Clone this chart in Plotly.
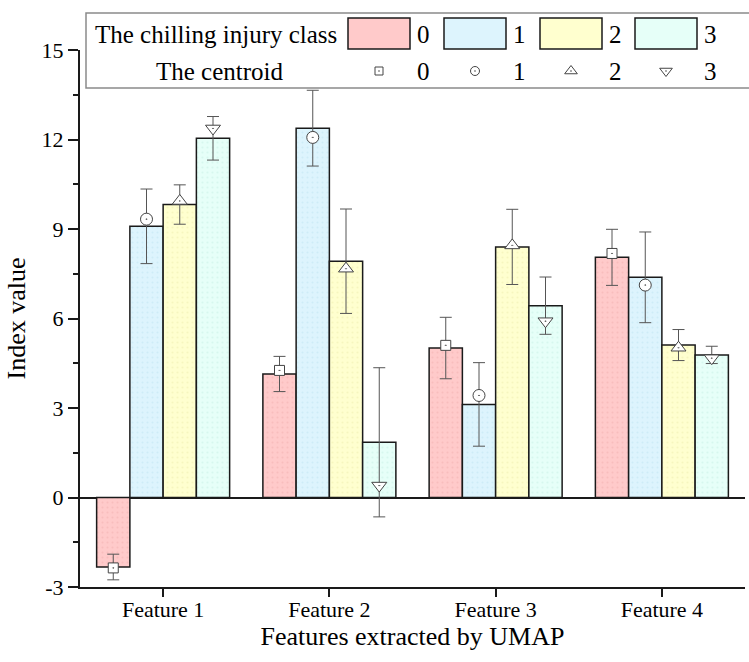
import numpy as np
import plotly.graph_objects as go

features = ["Feature 1", "Feature 2", "Feature 3", "Feature 4"]
classes = ["0", "1", "2", "3"]

# bar means (per class), symmetric error, and centroid marker values
class0 = [-2.33, 4.14, 5.01, 8.05]
err0 = [0.43, 0.59, 1.03, 0.94]
cent0 = [-2.36, 4.26, 5.10, 8.18]

class1 = [9.09, 12.38, 3.12, 7.38]
err1 = [1.25, 1.27, 1.40, 1.52]
cent1 = [9.33, 12.07, 3.42, 7.12]

class2 = [9.82, 7.92, 8.40, 5.11]
err2 = [0.66, 1.75, 1.26, 0.52]
cent2 = [9.94, 7.67, 8.45, 5.02]

class3 = [12.04, 1.85, 6.43, 4.78]
err3 = [0.73, 2.50, 0.96, 0.29]
cent3 = [12.37, 0.40, 5.91, 4.67]

y_ticks = [-3, 0, 3, 6, 9, 12, 15]
y_ticktext = ["-3", "0", "3", "6", "9", "12", "15"]

means = [class0, class1, class2, class3]
errs = [err0, err1, err2, err3]
cents = [cent0, cent1, cent2, cent3]

fills = ["#FFCACA", "#DDF4FD", "#FFFFCF", "#E6FFF8"]
dots = ["#F2AFAF", "#BFE3F2", "#EDEDB0", "#C8F0E4"]
symbols = ["square-dot", "circle-dot", "triangle-up-dot", "triangle-down-dot"]
msizes = [10, 12, 13, 13]

FONT = "Liberation Serif"
W, H = 749, 662
ML, MR, MT, MB = 80, 4, 50, 75
pw, ph = W - ML - MR, H - MT - MB

fig = go.Figure()
xs = np.arange(len(features))
nb = len(classes)
bw = 0.8 / nb
for k in range(nb):
    fig.add_trace(go.Bar(
        x=xs, y=means[k], name=classes[k],
        marker=dict(color=fills[k], line=dict(color="#1a1a1a", width=1.5),
                    pattern=dict(shape=".", size=5, solidity=0.15,
                                 fgcolor=dots[k], bgcolor=fills[k])),
        error_y=dict(type="data", array=errs[k], visible=True,
                     color="#555555", thickness=1, width=6),
        showlegend=False,
    ))
for k in range(nb):
    off = (k - (nb - 1) / 2) * bw
    fig.add_trace(go.Scatter(
        x=xs + off, y=cents[k], mode="markers",
        marker=dict(symbol=symbols[k], size=msizes[k], color="white",
                    line=dict(color="#444444", width=1)),
        showlegend=False, cliponaxis=False,
    ))

# ---- custom two-row legend (paper coordinates from pixel positions) ----
def px(x):
    return (x - ML) / pw

def py(y):
    return (H - MB - y) / ph

LFONT = dict(family=FONT, size=25, color="black")
shapes = [dict(type="rect", xref="paper", yref="paper",
               x0=px(86), x1=px(752), y0=py(88), y1=py(13),
               line=dict(color="#8a8a8a", width=1.5), fillcolor="white", layer="below")]
annotations = []
box_x0 = [348, 444, 540, 635]
box_w = 62
for k in range(nb):
    shapes.append(dict(type="rect", xref="paper", yref="paper",
                       x0=px(box_x0[k]), x1=px(box_x0[k] + box_w),
                       y0=py(49), y1=py(18),
                       line=dict(color="#1a1a1a", width=1.5),
                       fillcolor=fills[k], layer="above"))
    for yy in (34, 71):
        annotations.append(dict(xref="paper", yref="paper",
                                x=px(box_x0[k] + box_w + 13), y=py(yy),
                                xanchor="center", yanchor="middle",
                                text=classes[k], showarrow=False, font=LFONT))
annotations.append(dict(xref="paper", yref="paper", x=px(339), xanchor="right",
                        y=py(34), yanchor="middle",
                        text="The chilling injury class", showarrow=False, font=LFONT))
annotations.append(dict(xref="paper", yref="paper", x=px(220), xanchor="center",
                        y=py(71), yanchor="middle",
                        text="The centroid", showarrow=False, font=LFONT))

# legend markers on an overlay axis spanning the plot area in paper units
lx = [px(b + box_w / 2) for b in box_x0]
for k in range(nb):
    fig.add_trace(go.Scatter(
        x=[lx[k]], y=[py(71)], mode="markers", xaxis="x2", yaxis="y2",
        marker=dict(symbol=symbols[k], size=[8, 9, 11, 11][k], color="white",
                    line=dict(color="#444444", width=1)),
        showlegend=False, cliponaxis=False,
    ))

fig.update_layout(
    width=W, height=H,
    margin=dict(l=ML, r=MR, t=MT, b=MB, pad=0),
    paper_bgcolor="white", plot_bgcolor="white",
    barmode="group", bargap=0.2, bargroupgap=0,
    font=dict(family=FONT, size=22, color="black"),
    showlegend=False,
    shapes=shapes, annotations=annotations,
    xaxis=dict(range=[-0.5, 3.5], tickvals=list(xs), ticktext=features,
               showgrid=False, zeroline=False, showline=True,
               linecolor="#1a1a1a", linewidth=2,
               ticks="outside", ticklen=8, tickwidth=2, tickcolor="#1a1a1a",
               ticklabelstandoff=-6,
               tickfont=dict(family=FONT, size=22),
               title=dict(text="Features extracted by UMAP",
                          font=dict(family=FONT, size=26), standoff=2)),
    yaxis=dict(range=[-3, 15], tickvals=y_ticks, ticktext=y_ticktext, showgrid=False,
               zeroline=True, zerolinecolor="#1a1a1a", zerolinewidth=2,
               showline=True, linecolor="#1a1a1a", linewidth=2,
               ticks="outside", ticklen=10, tickwidth=2, tickcolor="#1a1a1a",
               minor=dict(dtick=1.5, tick0=0, ticklen=5, tickwidth=2,
                          tickcolor="#1a1a1a", ticks="outside"),
               tickfont=dict(family=FONT, size=22),
               title=dict(text="Index value", font=dict(family=FONT, size=26),
                          standoff=8)),
    xaxis2=dict(range=[0, 1], domain=[0, 1], overlaying="x", visible=False,
                anchor="y2"),
    yaxis2=dict(range=[0, 1], domain=[0, 1], overlaying="y", visible=False,
                anchor="x2"),
)

fig.write_html("out.html")
